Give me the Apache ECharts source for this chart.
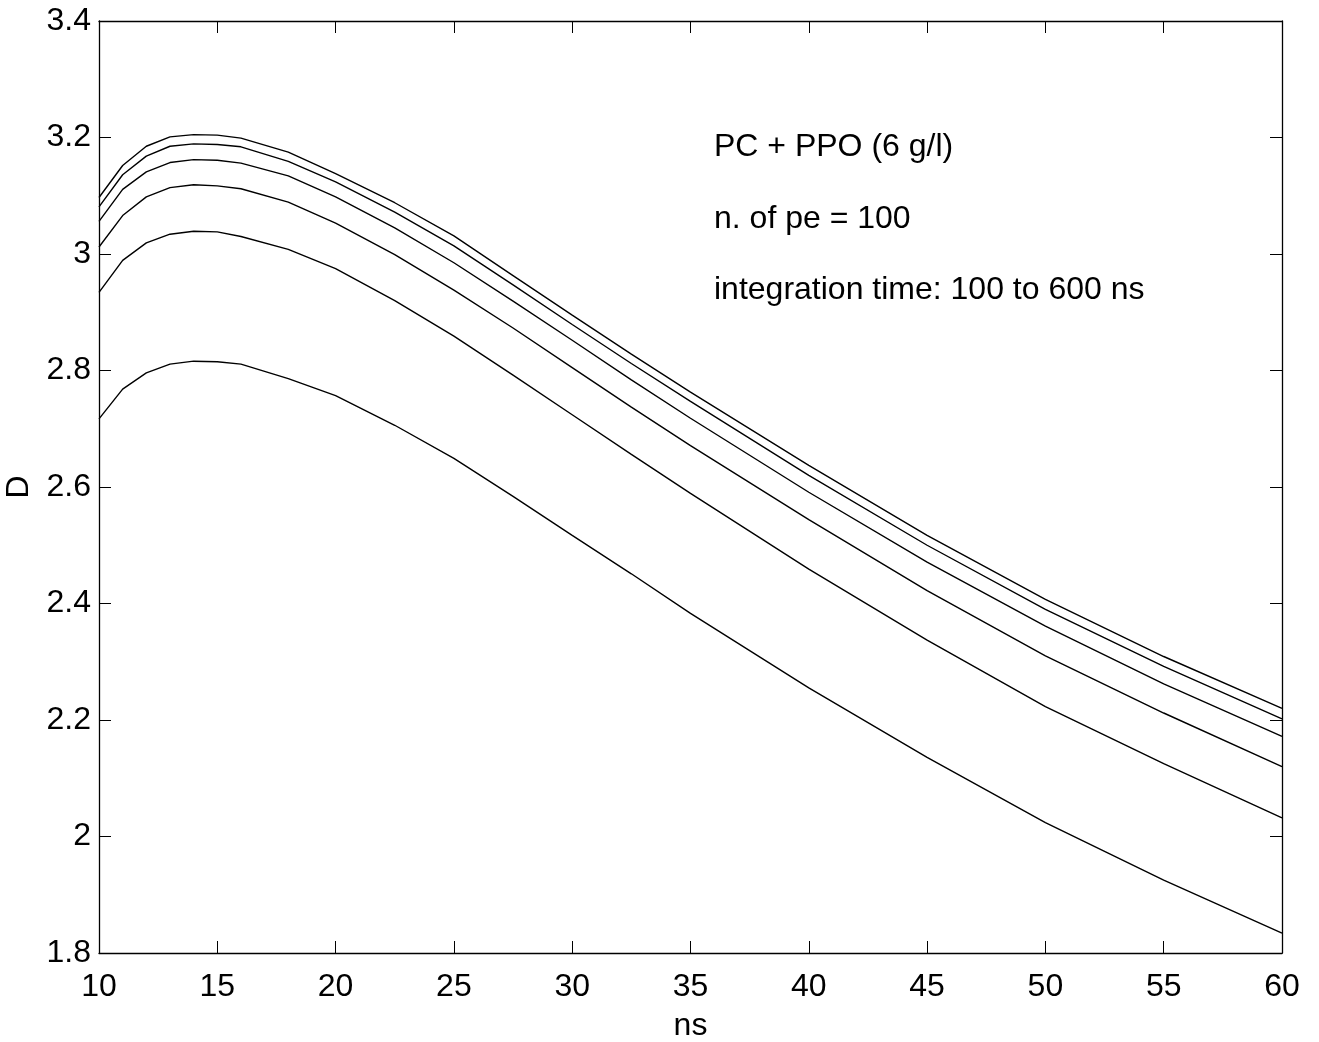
<!DOCTYPE html>
<html>
<head>
<meta charset="utf-8">
<script src="https://cdn.jsdelivr.net/npm/echarts@6/dist/echarts.min.js"></script>
<style>
html,body{margin:0;padding:0;background:#fff;}
#chart{width:1319px;height:1042px;}
</style>
</head>
<body>
<div id="chart"></div>
<script>
// x values (ns)
const xValues = [10, 11, 12, 13, 14, 15, 16, 18, 20, 22.5, 25, 27.5, 30, 32.5, 35, 40, 45, 50, 55, 60];
// D curves for integration times 600 ... 100 ns (top to bottom)
const curve1 = [3.097,3.152,3.185,3.201,3.205,3.204,3.199,3.175,3.138,3.088,3.031,2.963,2.895,2.828,2.763,2.637,2.517,2.407,2.309,2.220];
const curve2 = [3.081,3.136,3.168,3.185,3.189,3.188,3.184,3.159,3.124,3.072,3.014,2.947,2.879,2.812,2.747,2.620,2.500,2.390,2.292,2.202];
const curve3 = [3.056,3.111,3.141,3.157,3.162,3.161,3.156,3.134,3.098,3.045,2.985,2.919,2.852,2.784,2.718,2.591,2.471,2.361,2.262,2.172];
const curve4 = [3.012,3.066,3.098,3.114,3.119,3.117,3.112,3.089,3.053,2.999,2.938,2.873,2.805,2.737,2.671,2.544,2.422,2.310,2.212,2.120];
const curve5 = [2.934,2.989,3.019,3.034,3.039,3.038,3.030,3.008,2.975,2.920,2.859,2.792,2.724,2.656,2.589,2.459,2.337,2.223,2.125,2.032];
const curve6 = [2.717,2.768,2.796,2.811,2.816,2.815,2.811,2.786,2.757,2.706,2.649,2.584,2.517,2.451,2.383,2.255,2.136,2.024,1.925,1.834];
const curves = [curve1, curve2, curve3, curve4, curve5, curve6];
const annotations = ['PC + PPO (6 g/l)', 'n. of pe = 100', 'integration time: 100 to 600 ns'];

const FONT = '"Liberation Sans", Arial, Helvetica, sans-serif';
const FS = 32;

const chart = echarts.init(document.getElementById('chart'), null, {renderer: 'canvas'});

function axisCommon(extra) {
  return Object.assign({
    type: 'value',
    axisLine: {show: true, onZero: false, lineStyle: {color: '#000', width: 1.3}},
    axisTick: {show: true, inside: true, length: 12, lineStyle: {color: '#000', width: 1}},
    splitLine: {show: false},
    axisLabel: {show: true, color: '#000', fontFamily: FONT, fontSize: FS}
  }, extra);
}

const option = {
  animation: false,
  backgroundColor: '#fff',
  grid: {left: 99, top: 21, right: 37, bottom: 89, containLabel: false, outerBoundsMode: 'none'},
  xAxis: [
    axisCommon({
      position: 'bottom', min: 10, max: 60, interval: 5,
      name: 'ns', nameLocation: 'middle', nameGap: 57,
      nameTextStyle: {color: '#000', fontFamily: FONT, fontSize: FS},
      axisLabel: {show: true, color: '#000', fontFamily: FONT, fontSize: FS, margin: 18}
    }),
    axisCommon({position: 'top', min: 10, max: 60, interval: 5, axisLabel: {show: false}})
  ],
  yAxis: [
    axisCommon({
      position: 'left', min: 1.8, max: 3.4, interval: 0.2,
      name: 'D', nameLocation: 'middle', nameGap: 62,
      nameTextStyle: {color: '#000', fontFamily: FONT, fontSize: FS},
      axisLabel: {show: true, color: '#000', fontFamily: FONT, fontSize: FS, margin: 8}
    }),
    axisCommon({position: 'right', min: 1.8, max: 3.4, interval: 0.2, axisLabel: {show: false}})
  ],
  series: curves.map((c, i) => ({
    type: 'line',
    xAxisIndex: 0,
    yAxisIndex: 0,
    data: xValues.map((x, j) => [x, c[j]]),
    symbol: 'none',
    lineStyle: {color: '#000', width: 1.4},
    z: 5
  })),
  graphic: annotations.map((t, i) => ({
    type: 'text',
    left: 714,
    top: 131.5 + i * 71.5,
    style: {text: t, fill: '#000', font: FS + 'px ' + FONT}
  }))
};

chart.setOption(option);
</script>
</body>
</html>
